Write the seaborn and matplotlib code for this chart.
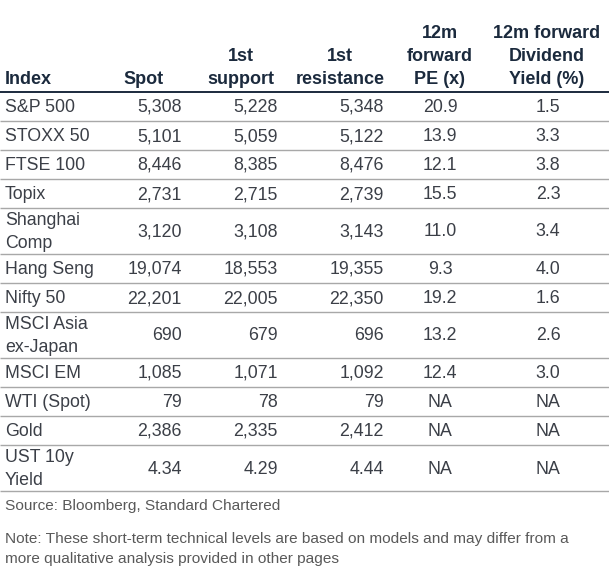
import matplotlib
matplotlib.use("Agg")
import matplotlib.pyplot as plt
import seaborn as sns

sns.set_theme(style="white")
plt.rcParams["font.family"] = ["Liberation Sans", "DejaVu Sans"]

# table content
headers = ["Index", "Spot", "1st\nsupport", "1st\nresistance",
           "12m\nforward\nPE (x)", "12m forward\nDividend\nYield (%)"]
index_names = ["S&P 500", "STOXX 50", "FTSE 100", "Topix", "Shanghai\nComp",
               "Hang Seng", "Nifty 50", "MSCI Asia\nex-Japan", "MSCI EM",
               "WTI (Spot)", "Gold", "UST 10y\nYield"]
spot = ["5,308", "5,101", "8,446", "2,731", "3,120", "19,074", "22,201",
        "690", "1,085", "79", "2,386", "4.34"]
support = ["5,228", "5,059", "8,385", "2,715", "3,108", "18,553", "22,005",
           "679", "1,071", "78", "2,335", "4.29"]
resistance = ["5,348", "5,122", "8,476", "2,739", "3,143", "19,355", "22,350",
              "696", "1,092", "79", "2,412", "4.44"]
fwd_pe = ["20.9", "13.9", "12.1", "15.5", "11.0", "9.3", "19.2", "13.2",
          "12.4", "NA", "NA", "NA"]
div_yield = ["1.5", "3.3", "3.8", "2.3", "3.4", "4.0", "1.6", "2.6",
             "3.0", "NA", "NA", "NA"]
source = "Source: Bloomberg, Standard Chartered"
note = ("Note: These short-term technical levels are based on models and may differ from a\n"
        "more qualitative analysis provided in other pages")

W, H = 609, 579
HEAD_C = "#1b2a3d"
BODY_C = "#3b3f47"
GRID_C = "#a8a8a8"
FOOT_C = "#595959"
FS = 12.8
HFS = 13.0
LINE_H = 22.5

fig = plt.figure(figsize=(W / 100, H / 100), dpi=100)
ax = fig.add_axes([0, 0, 1, 1])
ax.set_xlim(0, W)
ax.set_ylim(H, 0)
ax.axis("off")

# anchor x and alignment for header text and for body text
head_x = [(5, "left"), (144, "center"), (241, "center"), (340, "center"),
          (440, "center"), (547, "center")]
data_x = [(5, "left"), (182, "right"), (278, "right"), (384, "right"),
          (440, "center"), (548, "center")]

for (x, ha), h in zip(head_x, headers):
    lines = h.split("\n")
    for k, ln in enumerate(reversed(lines)):
        ax.text(x, 79 - k * LINE_H, ln, ha=ha, va="center", fontsize=HFS,
                fontweight="bold", color=HEAD_C)

top = 92
ax.hlines(top, 0, W, color=HEAD_C, lw=1.4)

columns = [index_names, spot, support, resistance, fwd_pe, div_yield]
y = top
for i, name in enumerate(index_names):
    rh = 46 if "\n" in name else 29
    yc = y + rh / 2 + 1
    for col, (x, ha) in zip(columns, data_x):
        ax.text(x, yc, col[i], ha=ha, va="center", fontsize=FS, color=BODY_C,
                linespacing=1.42)
    y += rh
    ax.hlines(y, 0, W, color=GRID_C, lw=1.0)

ax.text(5, 506, source, ha="left", va="center", fontsize=11.1, color=FOOT_C)
ax.text(5, 549, note, ha="left", va="center", fontsize=11.1, color=FOOT_C,
        linespacing=1.55)

fig.savefig("out.png", dpi=100)
